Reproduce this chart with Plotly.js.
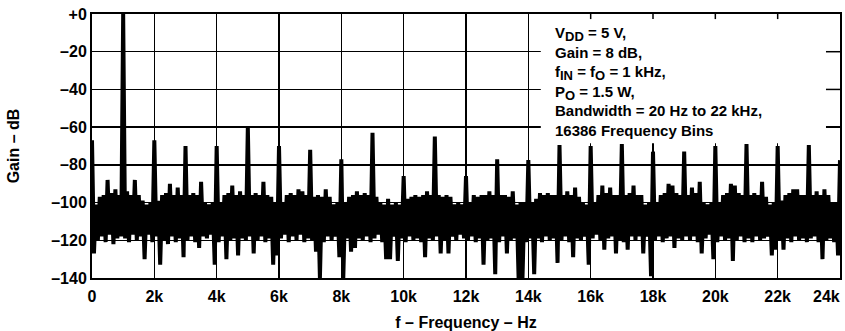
<!DOCTYPE html>
<html>
<head>
<meta charset="utf-8">
<script src="https://cdn.plot.ly/plotly-3.0.1.min.js"></script>
<style>
  html, body { margin: 0; padding: 0; background: #fff; }
  #chart { width: 845px; height: 331px; }
</style>
</head>
<body>
<div id="chart"></div>
<script>
// FFT spectrum of the amplifier output, 1 kHz fundamental.
// Harmonic levels at every kHz from 0 to 24 kHz (dB).
const harmonicKHz = [0, 1, 2, 3, 4, 5, 6, 7, 8, 9, 10, 11, 12, 13, 14, 15, 16, 17, 18, 19, 20, 21, 22, 23, 24];
const harmonicDb  = [-67, 0, -67, -70, -70, -60, -70, -72, -77, -63, -86, -65, -86, -77, -77.5, -69.5, -70, -69, -73, -73, -70, -69, -70, -69.5, -77.5];

// Noise floor: 15 bins between each pair of harmonics (62.5 Hz per bin).
const binsPerKHz = 16;
const noiseDb = [
  -127,-101,-120,-97,-118,-96,-121,-88,-117,-95,-122,-93,-119,-96,-118,   // 0-1k
  -119,-94,-121,-96,-117,-88,-120,-96,-118,-99,-130,-101,-117,-100,-121,  // 1-2k
  -118,-99,-133,-96,-120,-95,-122,-90,-118,-96,-121,-92,-119,-96,-129,    // 2-3k
  -120,-96,-118,-95,-121,-96,-124,-89,-118,-100,-119,-101,-117,-100,-133, // 3-4k
  -121,-100,-118,-96,-130,-95,-120,-91,-119,-96,-128,-94,-119,-96,-120,   // 4-5k
  -118,-96,-127,-95,-120,-96,-118,-89,-121,-96,-119,-97,-133,-100,-128,   // 5-6k
  -119,-100,-117,-96,-121,-95,-118,-96,-120,-93,-117,-94,-121,-96,-119,   // 6-7k
  -120,-97,-126,-96,-140,-97,-121,-93,-118,-97,-120,-101,-118,-100,-129,  // 7-8k
  -140,-100,-119,-97,-126,-96,-124,-94,-119,-96,-120,-95,-118,-96,-121,   // 8-9k
  -119,-97,-117,-100,-121,-101,-130,-98,-130,-101,-118,-100,-131,-101,-119, // 9-10k
  -121,-98,-118,-97,-120,-96,-119,-97,-121,-96,-129,-94,-119,-96,-120,    // 10-11k
  -118,-96,-127,-97,-120,-96,-127,-97,-118,-101,-120,-100,-117,-101,-119, // 11-12k
  -120,-100,-118,-96,-121,-97,-119,-96,-133,-96,-120,-94,-119,-96,-138,   // 12-13k
  -121,-96,-118,-96,-127,-97,-120,-94,-119,-101,-140,-100,-140,-100,-121, // 13-14k
  -119,-100,-138,-98,-119,-95,-121,-96,-118,-95,-120,-96,-119,-96,-132,   // 14-15k
  -120,-96,-118,-94,-121,-96,-129,-92,-119,-97,-120,-100,-118,-101,-133,  // 15-16k
  -119,-100,-117,-96,-120,-91,-125,-95,-119,-92,-118,-96,-127,-96,-120,   // 16-17k
  -121,-96,-125,-95,-118,-91,-120,-96,-118,-96,-127,-101,-118,-100,-139,  // 17-18k
  -120,-100,-118,-96,-121,-95,-119,-90,-118,-91,-124,-95,-119,-96,-120,   // 18-19k
  -118,-96,-120,-92,-118,-95,-121,-89,-127,-100,-119,-101,-117,-100,-130, // 19-20k
  -121,-100,-118,-96,-120,-95,-119,-90,-131,-91,-120,-95,-118,-96,-121,   // 20-21k
  -119,-96,-121,-95,-118,-96,-120,-89,-119,-97,-118,-101,-128,-100,-125,  // 21-22k
  -120,-99,-125,-96,-119,-95,-121,-93,-118,-93,-120,-96,-119,-96,-121,    // 22-23k
  -119,-96,-118,-94,-121,-96,-130,-93,-120,-96,-119,-100,-121,-100,-128   // 23-24k
];

// Axis ticks
const yTickVals = [0, -20, -40, -60, -80, -100, -120, -140];
const yTickText = ['+0', '\u201320', '\u201340', '\u201360', '\u201380', '\u2013100', '\u2013120', '\u2013140'];
const xTickVals = [0, 2000, 4000, 6000, 8000, 10000, 12000, 14000, 16000, 18000, 20000, 22000];
const xTickText = ['0', '2k', '4k', '6k', '8k', '10k', '12k', '14k', '16k', '18k', '20k', '22k'];
// the last label sits inside the right frame edge
const xEndLabelPos = 23560;
const xEndLabel = '24k';

// Assemble the spectrum: harmonic bin followed by the noise bins up to the next one.
const freq = [];
const gain = [];
const perGap = binsPerKHz - 1;
for (let k = 0; k < harmonicKHz.length; k++) {
  freq.push(harmonicKHz[k] * 1000);
  gain.push(harmonicDb[k]);
  if (k < harmonicKHz.length - 1) {
    for (let j = 1; j <= perGap; j++) {
      freq.push(harmonicKHz[k] * 1000 + j * 1000 / binsPerKHz);
      gain.push(noiseDb[k * perGap + j - 1]);
    }
  }
}

const family = 'Liberation Sans, Arial, sans-serif';
const font = { family: family, size: 16, color: '#000', weight: 'bold' };

const trace = {
  x: freq, y: gain, type: 'scatter', mode: 'lines',
  line: { color: '#000', width: 4, join: 'miter' },
  hoverinfo: 'skip', showlegend: false
};

// Condition box (white panel behind the text, above the grid)
const boxX0 = 14400, boxX1 = 23550, boxY0 = -68.5;
const shapes = [
  { type: 'rect', xref: 'x', yref: 'y', x0: boxX0, x1: boxX1, y0: boxY0, y1: 0,
    fillcolor: '#fff', line: { width: 0 }, layer: 'between' }
];
// short grid stubs kept at the frame edges around the box
yTickVals.filter(v => v < 0 && v > boxY0).forEach(v => {
  shapes.push({ type: 'line', xref: 'x', yref: 'y', x0: boxX1, x1: 24000, y0: v, y1: v,
    line: { color: '#000', width: 1.5 }, layer: 'between' });
});
xTickVals.filter(v => v > boxX0 && v < boxX1).forEach(v => {
  shapes.push({ type: 'line', xref: 'x', yref: 'y', x0: v, x1: v, y0: 0, y1: -2.7,
    line: { color: '#000', width: 1.5 }, layer: 'between' });
});

const sub = s => '<sub><span style="font-size:13px">' + s + '</span></sub>';

const layout = {
  width: 845, height: 331,
  margin: { l: 92, r: 5, t: 14, b: 53 },
  paper_bgcolor: '#fff', plot_bgcolor: '#fff',
  font: font,
  showlegend: false,
  xaxis: {
    range: [0, 24000], tickvals: xTickVals, ticktext: xTickText,
    showgrid: true, gridcolor: '#000', gridwidth: 1.5,
    showline: true, linecolor: '#000', linewidth: 2, mirror: true,
    ticks: '', zeroline: false, tickfont: font, ticklabelstandoff: 3,
    title: { text: 'f \u2013 Frequency \u2013 Hz', font: font, standoff: 15 }
  },
  yaxis: {
    range: [-140, 0], tickvals: yTickVals, ticktext: yTickText,
    showgrid: true, gridcolor: '#000', gridwidth: 1.5,
    showline: true, linecolor: '#000', linewidth: 2, mirror: true,
    ticks: '', zeroline: false, tickfont: font,
    title: { text: 'Gain \u2013 dB', font: font, standoff: 28 }
  },
  shapes: shapes,
  annotations: [
    {
      xref: 'x', yref: 'y', x: 14780, y: -4, xanchor: 'left', yanchor: 'top', align: 'left',
      showarrow: false,
      font: { family: family, size: 15, color: '#000', weight: 'bold' },
      text: 'V' + sub('DD') + ' = 5 V,<br>Gain = 8 dB,<br>f' + sub('IN') + ' = f' + sub('O') +
            ' = 1 kHz,<br>P' + sub('O') + ' = 1.5 W,<br>Bandwidth = 20 Hz to 22 kHz,<br>16386 Frequency Bins'
    },
    {
      xref: 'x', yref: 'paper', x: xEndLabelPos, y: 0, xanchor: 'center', yanchor: 'middle',
      yshift: -18, showarrow: false, font: font, text: xEndLabel
    }
  ]
};

Plotly.newPlot('chart', [trace], layout, { displayModeBar: false, staticPlot: true });
</script>
</body>
</html>
